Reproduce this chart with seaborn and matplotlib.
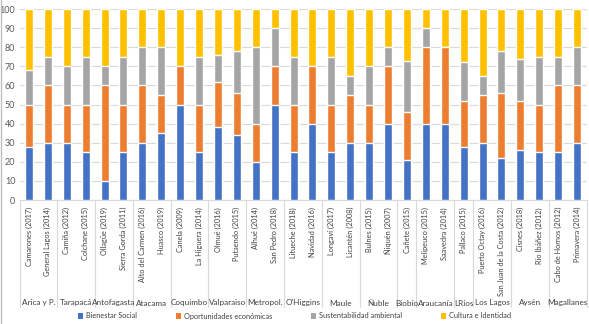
import numpy as np
import pandas as pd
import matplotlib
matplotlib.use("Agg")
import matplotlib.pyplot as plt
import matplotlib.transforms as mtransforms
from matplotlib.patches import Patch
import seaborn as sns

communes = ["Camarones (2017)", "General Lagos (2014)", "Camiña (2012)", "Colchane (2015)",
            "Ollagüe (2019)", "Sierra Gorda (2011)", "Alto del Carmen (2016)", "Huasco (2019)",
            "Canela (2009)", "La Higuera (2014)", "Olmué (2016)", "Putaendo (2015)",
            "Alhué (2014)", "San Pedro (2018)", "Litueche (2018)", "Navidad (2016)",
            "Longaví (2017)", "Licantén (2008)", "Bulnes (2015)", "Ñiquén (2007)",
            "Cañete (2015)", "Melipeuco (2015)", "Saavedra (2014)", "Pallaco (2015)",
            "Puerto Octay (2016)", "San Juan de la Costa (2012)", "Cisnes (2018)",
            "Río Ibáñez (2012)", "Cabo de Hornos (2012)", "Primavera (2014)"]
regions = ["Arica y P.", "Tarapacá", "Antofagasta", "Atacama", "Coquimbo", "Valparaiso",
           "Metropol.", "O'Higgins", "Maule", "Ñuble", "Biobío", "Araucanía", "LRíos",
           "Los Lagos", "Aysén", "Magallanes"]
region_sizes = [2, 2, 2, 2, 2, 2, 2, 2, 2, 2, 1, 2, 1, 2, 2, 2]

bienestar = [28, 30, 30, 25, 10, 25, 30, 35, 50, 25, 38, 34, 20, 50, 25, 40, 25, 30, 30, 40,
             21, 40, 40, 28, 30, 22, 26, 25, 25, 30]
oportunidades = [22, 30, 20, 25, 50, 25, 30, 20, 20, 25, 24, 22, 20, 20, 25, 30, 25, 25, 20, 30,
                 25, 40, 40, 24, 25, 34, 26, 25, 35, 30]
sustentabilidad = [18, 15, 20, 25, 10, 25, 20, 25, 0, 25, 14, 22, 40, 20, 25, 0, 25, 10, 20, 10,
                   27, 10, 0, 20, 10, 22, 22, 25, 15, 20]
cultura = [32, 25, 30, 25, 30, 25, 20, 20, 30, 25, 24, 22, 20, 10, 25, 30, 25, 35, 30, 20,
           27, 10, 20, 28, 35, 22, 26, 25, 25, 20]

series_names = ["Bienestar Social", "Oportunidades económicas",
                "Sustentabilidad ambiental", "Cultura e Identidad"]
colors = ["#4472C4", "#ED7D31", "#A5A5A5", "#FFC000"]

sns.set_theme(style="white")
FONT = ["Lato", "DejaVu Sans"]
plt.rcParams["font.family"] = FONT

df = pd.DataFrame({"comuna": communes, series_names[0]: bienestar,
                   series_names[1]: oportunidades, series_names[2]: sustentabilidad,
                   series_names[3]: cultura})
cum = df[series_names].cumsum(axis=1)

fig = plt.figure(figsize=(5.89, 3.24), dpi=100)
W, H = 589, 324
ax = fig.add_axes([19.5 / W, (H - 200) / H, (586.5 - 19.5) / W, (200 - 9) / H])

for name, col in reversed(list(zip(series_names, colors))):
    sns.barplot(x=df["comuna"], y=cum[name], color=col, width=0.42, ax=ax,
                saturation=1, errorbar=None, zorder=3)

ax.set_ylim(0, 100)
ax.set_xlim(-0.5, len(communes) - 0.5)
ax.set_yticks(np.arange(0, 101, 10))
ax.yaxis.grid(True, color="#D9D9D9", linewidth=0.8, zorder=0)
ax.set_axisbelow(True)
for s in ["top", "right", "left"]:
    ax.spines[s].set_visible(False)
ax.spines["bottom"].set_color("#D9D9D9")
ax.spines["bottom"].set_linewidth(0.8)
ax.set_xlabel("")
ax.set_ylabel("")
ax.tick_params(axis="y", labelsize=6.5, colors="#595959", length=0, pad=3)
ax.tick_params(axis="x", labelsize=5.3, colors="#404040", length=0, pad=5)
plt.setp(ax.get_xticklabels(), rotation=90, ha="center", va="top")

# region separators and labels
trans = mtransforms.blended_transform_factory(ax.transData, fig.transFigure)
y_top = (H - 200) / H
y_bot = (H - 307) / H
y_lab = (H - 303) / H
bounds = np.concatenate([[0], np.cumsum(region_sizes)]) - 0.5
for b in bounds:
    ax.add_line(plt.Line2D([b, b], [y_top, y_bot], transform=trans, color="#D9D9D9",
                           linewidth=0.8, clip_on=False))
for i, r in enumerate(regions):
    xc = (bounds[i] + bounds[i + 1]) / 2
    ax.text(xc, y_lab, r, transform=trans, ha="center", va="center", fontsize=5.9,
            color="#404040", clip_on=False)

handles = [Patch(facecolor=c, edgecolor="none") for c in colors]
fig.legend(handles, series_names, loc="center", bbox_to_anchor=(0.5, (H - 316) / H),
           ncol=4, frameon=False, fontsize=5.3, handlelength=0.75, handleheight=0.75,
           handletextpad=0.4, columnspacing=5.2, labelcolor="#404040",
           borderpad=0, borderaxespad=0)

fig.add_artist(plt.Line2D([0.002, 0.002], [0, 1], transform=fig.transFigure,
                          color="#BFBFBF", linewidth=1))

fig.savefig("out.png", dpi=100)
